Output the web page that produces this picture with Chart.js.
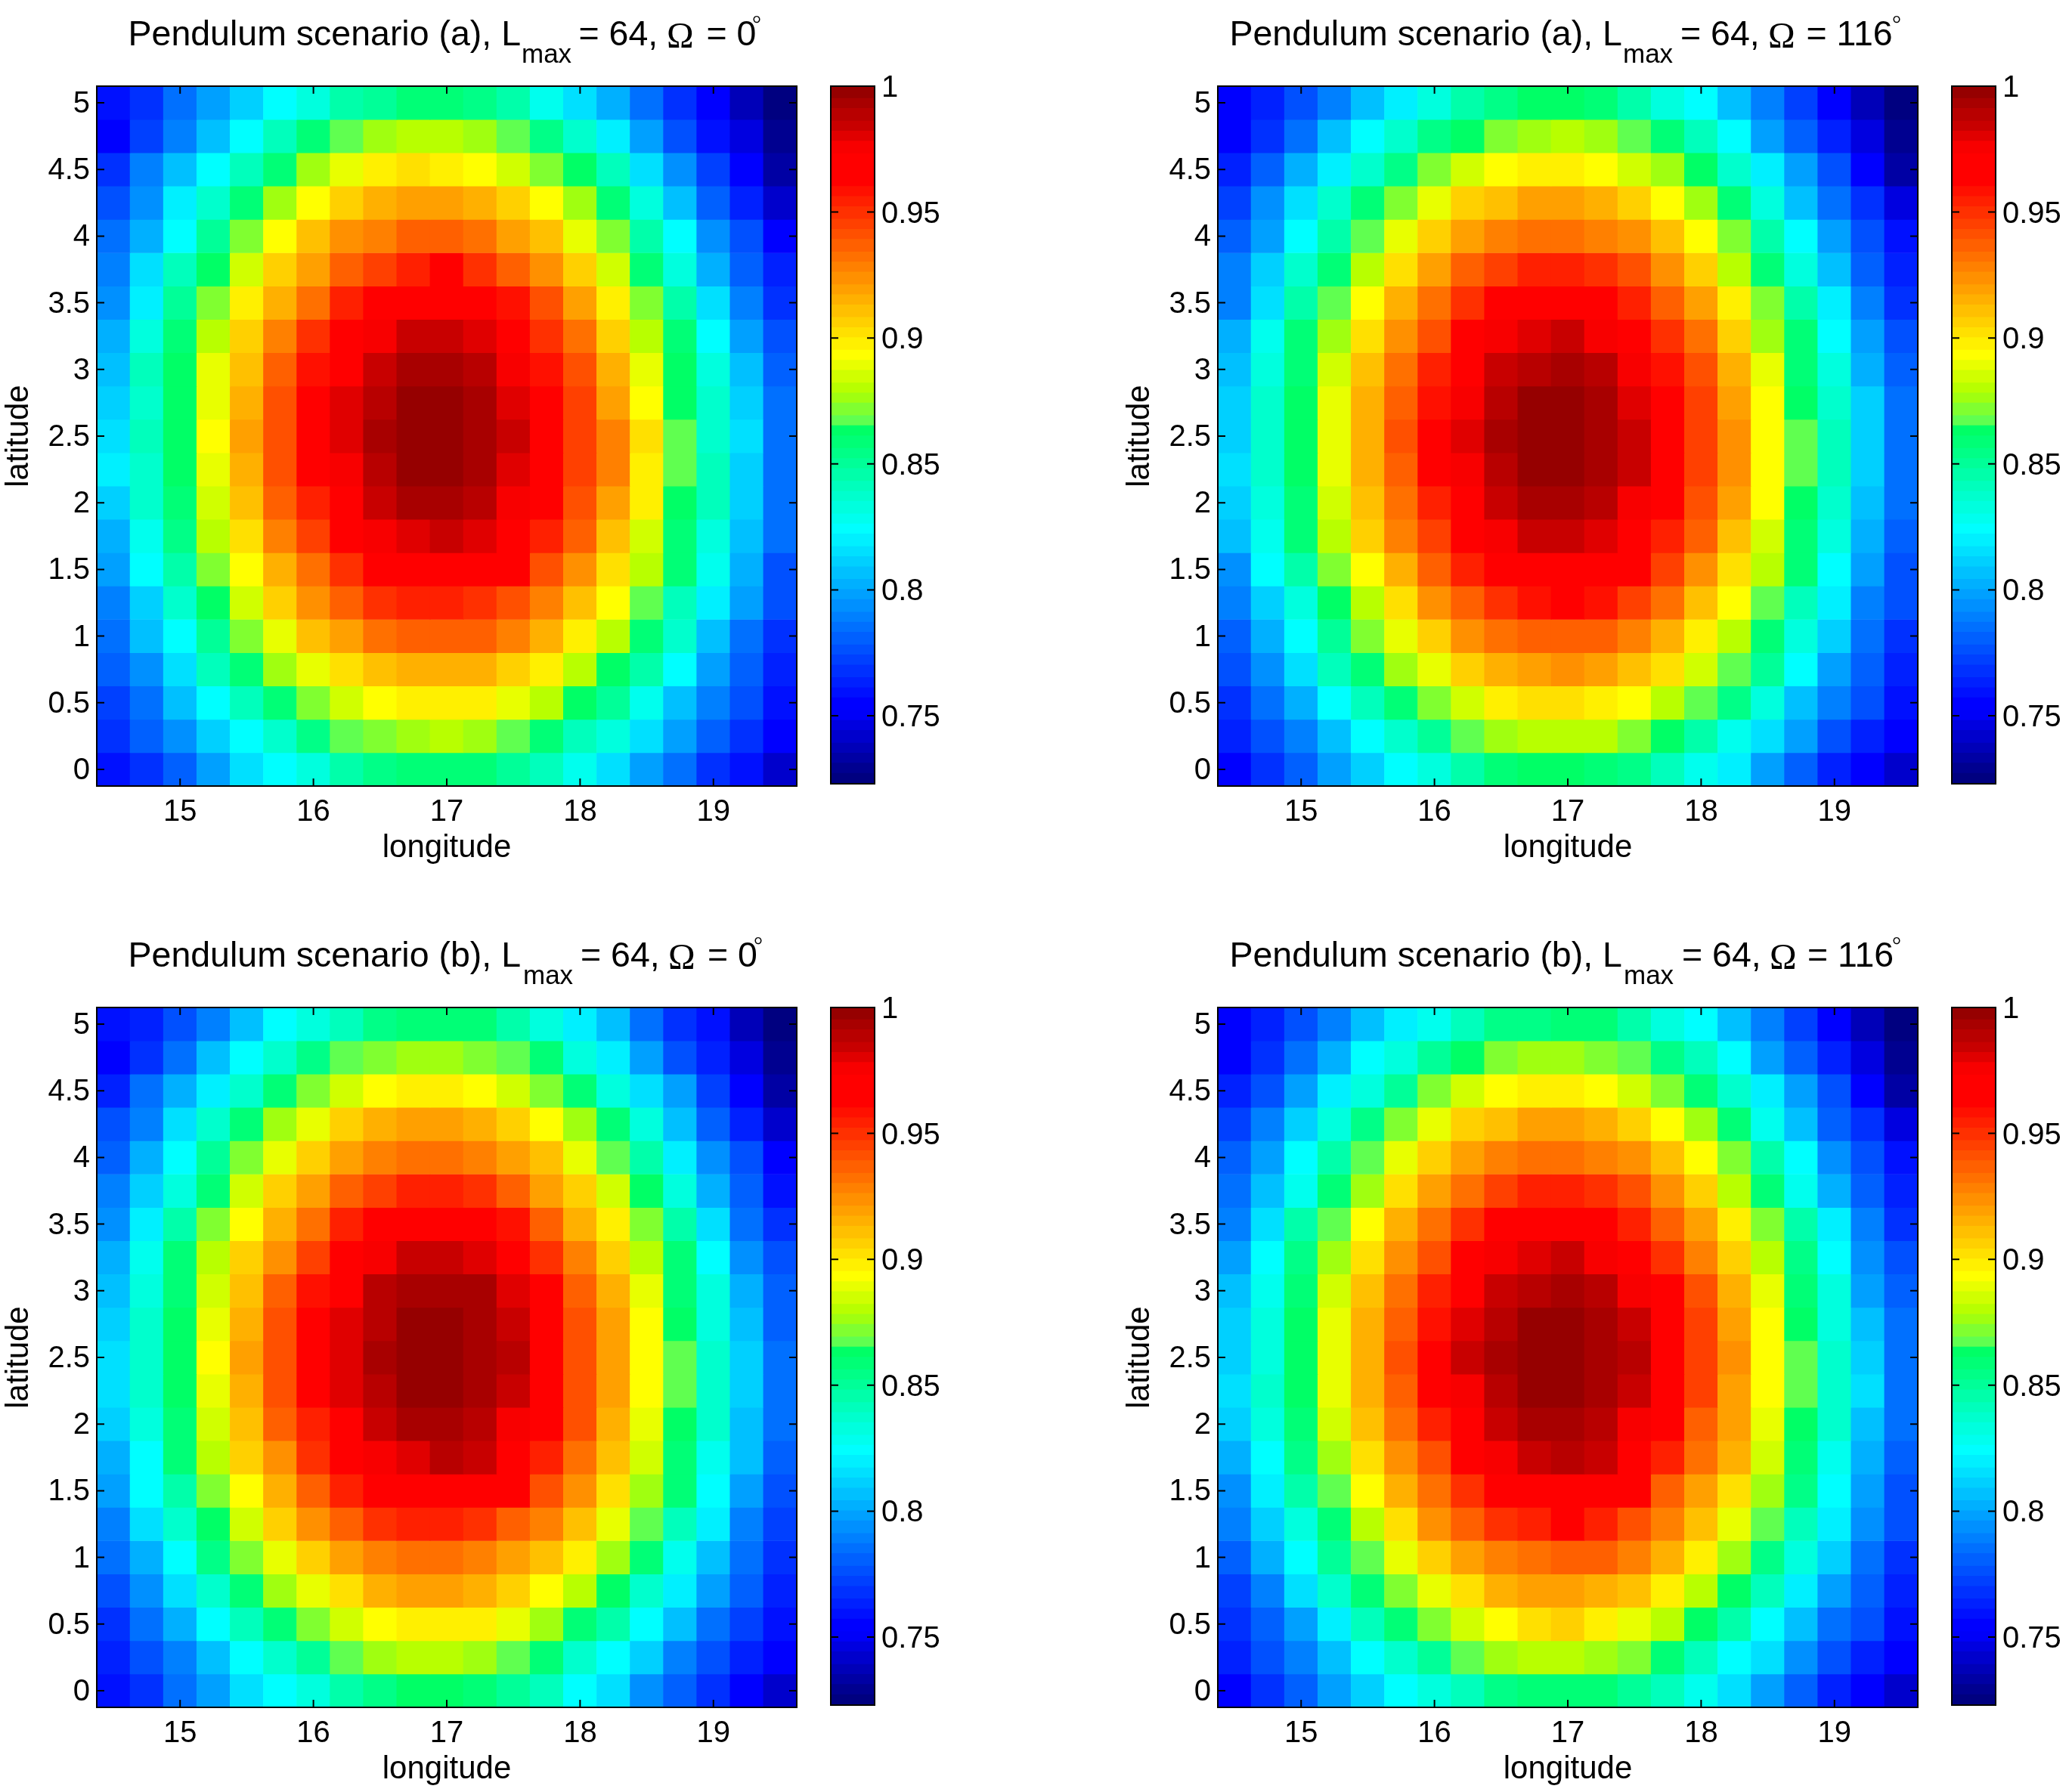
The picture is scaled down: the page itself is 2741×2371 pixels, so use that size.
<!DOCTYPE html>
<html>
<head>
<meta charset="utf-8">
<title>Pendulum scenarios</title>
<script src="https://cdn.jsdelivr.net/npm/chart.js@4"></script>
<style>
  body { margin: 0; background: #fff; }
  canvas { position: absolute; }
</style>
</head>
<body>
<script>
const longitudes = [14.5,14.75,15,15.25,15.5,15.75,16,16.25,16.5,16.75,17,17.25,17.5,17.75,18,18.25,18.5,18.75,19,19.25,19.5];
const latitudes = [5,4.75,4.5,4.25,4,3.75,3.5,3.25,3,2.75,2.5,2.25,2,1.75,1.5,1.25,1,.75,.5,.25,0];
const lonTicks = [15,16,17,18,19];
const latTicks = [0,.5,1,1.5,2,2.5,3,3.5,4,4.5,5];
const barTicks = [.75,.8,.85,.9,.95,1];

// colour bar bands, bottom to top
const bandValues = [.725,.730,.734,.738,.742,.747,.751,.755,.760,.764,.768,.773,.777,.781,.786,.790,.794,.799,.803,.807,.812,.816,.820,.825,.829,.833,.838,.842,.846,.851,.855,.859,.864,.868,.872,.877,.881,.885,.890,.894,.898,.903,.907,.911,.916,.920,.924,.929,.933,.937,.942,.946,.950,.955,.959,.963,.968,.972,.976,.981,.985,.989,.994,.998];
const bandColors = ['#000080','#000090','#0000a4','#0000b8','#0000cc','#0000e0','#0000f8','#0000ff','#0010ff','#0020ff','#0030ff','#0040ff','#0050ff','#0060ff','#0070ff','#0080ff','#0090ff','#00a0ff','#00b0ff','#00c0ff','#00d0ff','#00e0ff','#00f0ff','#00ffff','#00ffee','#00ffde','#00ffcd','#00ffbc','#00ffaa','#00ff98','#00ff87','#00ff76','#00ff66','#60ff50','#80ff30','#a0ff10','#b8ff00','#d0ff00','#e8ff00','#ffff00','#fff000','#ffe000','#ffd000','#ffc000','#ffb000','#ffa000','#ff9000','#ff8000','#ff7000','#ff6000','#ff5000','#ff4000','#ff3000','#ff2000','#ff1000','#ff0000','#ff0000','#ff0000','#f80000','#e00000','#c80000','#b80000','#a80000','#960000'];

// rows run from latitude 5 down to 0
const scenarioA0 = [
[.760,.768,.786,.799,.812,.825,.833,.846,.851,.859,.859,.855,.846,.829,.816,.803,.786,.768,.755,.738,.725],
[.755,.773,.790,.807,.825,.842,.859,.868,.877,.881,.881,.877,.868,.855,.838,.820,.799,.777,.760,.747,.730],
[.768,.790,.807,.825,.842,.859,.877,.890,.898,.903,.898,.894,.885,.872,.864,.842,.816,.794,.773,.755,.734],
[.777,.794,.820,.838,.859,.877,.894,.907,.916,.920,.920,.916,.907,.894,.877,.859,.833,.807,.781,.764,.742],
[.786,.803,.825,.851,.872,.894,.911,.924,.929,.937,.937,.933,.920,.911,.890,.872,.846,.825,.794,.777,.755],
[.790,.816,.842,.864,.885,.907,.920,.937,.946,.955,.963,.950,.937,.924,.907,.885,.859,.833,.803,.781,.764],
[.794,.820,.851,.872,.898,.916,.933,.955,.963,.963,.968,.963,.959,.942,.920,.898,.872,.846,.816,.790,.768],
[.803,.833,.859,.881,.907,.929,.950,.963,.976,.985,.985,.981,.968,.950,.933,.907,.881,.859,.825,.799,.777],
[.807,.842,.864,.890,.911,.937,.959,.968,.985,.994,.994,.989,.976,.959,.942,.916,.890,.864,.833,.807,.781],
[.812,.838,.864,.890,.916,.942,.963,.981,.989,.998,.998,.994,.981,.963,.946,.920,.894,.864,.838,.812,.786],
[.816,.842,.864,.894,.920,.942,.963,.981,.994,.998,.998,.994,.985,.963,.946,.929,.903,.868,.838,.816,.786],
[.820,.838,.864,.890,.916,.942,.963,.976,.989,.998,.998,.994,.981,.963,.946,.929,.898,.868,.842,.812,.786],
[.812,.838,.859,.885,.911,.937,.955,.968,.985,.994,.994,.989,.976,.968,.942,.920,.898,.864,.842,.812,.786],
[.803,.829,.855,.881,.903,.929,.946,.968,.976,.981,.985,.981,.968,.955,.937,.911,.885,.859,.833,.807,.786],
[.799,.825,.846,.872,.894,.916,.933,.950,.963,.963,.963,.963,.968,.942,.924,.903,.881,.859,.829,.803,.777],
[.790,.812,.838,.864,.885,.907,.924,.937,.950,.955,.955,.950,.942,.929,.911,.894,.868,.842,.820,.799,.777],
[.786,.807,.825,.851,.872,.890,.911,.920,.933,.937,.937,.937,.929,.916,.898,.881,.859,.838,.807,.786,.768],
[.781,.794,.816,.842,.859,.877,.890,.903,.911,.916,.916,.916,.907,.898,.881,.864,.846,.825,.799,.781,.764],
[.773,.786,.807,.825,.842,.859,.872,.885,.894,.898,.898,.898,.890,.881,.864,.851,.829,.807,.790,.777,.760],
[.768,.781,.794,.812,.825,.838,.855,.868,.872,.877,.881,.877,.868,.859,.842,.833,.816,.799,.781,.768,.755],
[.760,.768,.781,.799,.816,.825,.833,.846,.855,.859,.859,.859,.851,.842,.829,.816,.799,.786,.768,.760,.742]
];
const scenarioA116 = [
[.755,.764,.777,.790,.807,.820,.833,.846,.855,.864,.864,.859,.846,.833,.825,.807,.790,.773,.755,.738,.725],
[.755,.768,.786,.807,.825,.838,.855,.864,.872,.877,.881,.877,.868,.859,.842,.825,.799,.781,.764,.747,.730],
[.764,.781,.803,.820,.838,.855,.872,.885,.894,.898,.898,.894,.885,.877,.864,.838,.820,.799,.777,.755,.734],
[.773,.794,.816,.838,.859,.872,.890,.907,.911,.920,.920,.916,.907,.894,.877,.859,.833,.807,.786,.768,.747],
[.781,.799,.825,.846,.868,.890,.907,.920,.929,.933,.933,.929,.924,.911,.894,.872,.846,.825,.799,.777,.760],
[.790,.812,.838,.859,.881,.903,.920,.937,.946,.955,.955,.950,.942,.924,.907,.881,.859,.833,.807,.781,.764],
[.790,.816,.846,.868,.894,.916,.933,.950,.963,.963,.963,.963,.955,.937,.920,.898,.872,.846,.820,.790,.768],
[.803,.829,.859,.877,.903,.924,.942,.963,.976,.981,.985,.976,.968,.950,.933,.907,.877,.859,.825,.799,.777],
[.807,.833,.859,.885,.911,.933,.955,.968,.985,.989,.994,.989,.976,.959,.942,.916,.890,.859,.833,.803,.781],
[.812,.838,.864,.890,.916,.937,.959,.976,.989,.998,.998,.994,.981,.968,.946,.920,.894,.864,.838,.812,.786],
[.812,.838,.864,.890,.916,.942,.963,.981,.994,.998,.998,.994,.985,.968,.946,.924,.894,.868,.842,.812,.786],
[.816,.838,.864,.890,.916,.937,.963,.976,.989,.998,.998,.994,.985,.968,.946,.924,.894,.868,.842,.812,.786],
[.812,.833,.859,.885,.911,.933,.955,.968,.985,.994,.994,.989,.976,.968,.942,.920,.894,.864,.838,.807,.786],
[.807,.829,.859,.881,.907,.929,.946,.968,.976,.985,.985,.981,.968,.955,.937,.911,.885,.859,.833,.803,.781],
[.794,.825,.846,.872,.894,.916,.937,.955,.963,.963,.963,.963,.963,.946,.924,.903,.881,.859,.825,.799,.777],
[.790,.812,.833,.864,.881,.903,.924,.937,.950,.959,.963,.959,.946,.933,.911,.894,.868,.842,.820,.790,.777],
[.781,.803,.825,.851,.872,.890,.907,.924,.933,.937,.937,.937,.929,.916,.898,.881,.859,.833,.812,.786,.768],
[.777,.794,.816,.842,.859,.877,.890,.907,.916,.920,.924,.920,.911,.903,.885,.868,.851,.825,.799,.781,.764],
[.768,.786,.803,.825,.842,.859,.872,.885,.898,.903,.903,.898,.894,.881,.868,.855,.833,.807,.790,.777,.760],
[.764,.777,.790,.807,.825,.838,.851,.868,.877,.881,.881,.881,.872,.864,.846,.829,.816,.799,.777,.764,.755],
[.755,.768,.781,.799,.812,.825,.833,.846,.859,.864,.864,.859,.855,.842,.829,.820,.799,.781,.764,.755,.742]
];
const scenarioB0 = [
[.760,.764,.777,.790,.807,.825,.833,.842,.855,.859,.859,.859,.846,.833,.820,.807,.786,.768,.760,.738,.725],
[.755,.768,.786,.807,.825,.838,.855,.868,.872,.877,.877,.872,.868,.859,.833,.820,.799,.777,.764,.747,.730],
[.764,.786,.803,.820,.838,.859,.872,.885,.894,.898,.898,.894,.885,.872,.859,.833,.816,.799,.773,.755,.734],
[.777,.790,.816,.838,.859,.877,.890,.907,.916,.920,.920,.916,.907,.894,.877,.859,.833,.807,.781,.764,.742],
[.781,.803,.825,.851,.872,.890,.907,.920,.929,.933,.933,.929,.920,.911,.890,.868,.846,.820,.794,.777,.755],
[.790,.812,.833,.859,.885,.907,.920,.937,.946,.955,.955,.950,.937,.920,.907,.885,.864,.833,.803,.781,.760],
[.794,.820,.846,.872,.894,.916,.933,.955,.963,.963,.963,.963,.959,.937,.916,.898,.872,.846,.816,.786,.768],
[.803,.829,.859,.881,.907,.924,.946,.963,.976,.985,.985,.981,.968,.950,.929,.907,.881,.859,.825,.794,.777],
[.807,.833,.859,.885,.911,.937,.959,.968,.989,.994,.994,.994,.981,.968,.937,.916,.890,.859,.833,.803,.781],
[.812,.838,.864,.890,.916,.942,.963,.981,.989,.998,.998,.994,.985,.968,.942,.920,.894,.864,.833,.807,.781],
[.816,.838,.864,.894,.920,.942,.963,.981,.994,.998,.998,.994,.989,.968,.942,.920,.894,.868,.838,.812,.786],
[.816,.838,.864,.890,.916,.942,.963,.981,.989,.998,.998,.994,.985,.968,.942,.920,.894,.868,.838,.812,.786],
[.812,.833,.859,.885,.911,.937,.955,.968,.985,.994,.994,.989,.976,.968,.942,.916,.890,.864,.838,.807,.786],
[.803,.825,.859,.881,.907,.924,.950,.968,.976,.981,.989,.985,.968,.955,.933,.911,.885,.859,.829,.807,.781],
[.799,.825,.846,.872,.894,.916,.937,.955,.963,.963,.963,.963,.963,.942,.924,.903,.877,.859,.825,.799,.777],
[.790,.816,.838,.864,.885,.907,.924,.937,.950,.955,.955,.950,.937,.929,.911,.890,.868,.842,.820,.790,.773],
[.786,.803,.825,.855,.872,.890,.907,.920,.929,.933,.933,.929,.920,.911,.898,.877,.859,.829,.807,.786,.768],
[.777,.794,.816,.838,.859,.877,.890,.903,.916,.920,.920,.916,.907,.894,.881,.864,.838,.820,.799,.781,.764],
[.768,.786,.803,.825,.842,.859,.872,.885,.894,.898,.898,.898,.890,.877,.859,.846,.825,.807,.786,.773,.760],
[.764,.777,.790,.807,.825,.838,.851,.868,.877,.881,.881,.877,.868,.859,.838,.825,.812,.790,.777,.764,.755],
[.760,.768,.786,.799,.816,.825,.833,.846,.855,.864,.864,.859,.851,.842,.825,.816,.794,.781,.768,.755,.742]
];
const scenarioB116 = [
[.755,.764,.777,.790,.807,.820,.829,.842,.855,.855,.859,.859,.846,.833,.825,.807,.790,.773,.755,.738,.725],
[.755,.768,.786,.803,.825,.833,.851,.864,.872,.877,.877,.872,.868,.855,.842,.825,.799,.781,.764,.747,.730],
[.764,.777,.799,.820,.833,.851,.872,.885,.894,.898,.898,.894,.885,.872,.859,.838,.820,.799,.777,.755,.734],
[.773,.790,.812,.833,.855,.872,.890,.907,.911,.920,.920,.916,.907,.894,.877,.859,.829,.807,.781,.768,.747],
[.781,.799,.825,.846,.868,.890,.907,.920,.929,.933,.933,.929,.924,.911,.894,.872,.846,.825,.794,.777,.760],
[.786,.807,.829,.859,.877,.903,.920,.933,.946,.955,.955,.950,.942,.924,.907,.881,.859,.829,.803,.781,.764],
[.790,.816,.846,.868,.894,.916,.933,.950,.963,.963,.963,.963,.955,.937,.920,.898,.872,.846,.820,.790,.768],
[.799,.825,.855,.877,.903,.924,.942,.968,.976,.981,.985,.976,.963,.950,.929,.907,.881,.855,.825,.794,.777],
[.807,.829,.859,.885,.911,.933,.955,.968,.985,.989,.994,.989,.976,.968,.942,.916,.890,.859,.833,.799,.781],
[.812,.833,.864,.890,.916,.937,.959,.981,.989,.998,.998,.994,.985,.968,.946,.920,.894,.864,.833,.807,.786],
[.812,.833,.864,.890,.916,.942,.963,.985,.994,.998,.998,.994,.989,.968,.946,.924,.894,.868,.838,.812,.786],
[.816,.838,.864,.890,.916,.937,.963,.976,.989,.998,.998,.994,.985,.968,.946,.920,.894,.868,.838,.816,.786],
[.812,.833,.859,.885,.911,.933,.955,.968,.985,.994,.994,.989,.976,.968,.937,.920,.890,.864,.838,.807,.786],
[.803,.825,.855,.877,.903,.924,.942,.968,.976,.985,.989,.985,.968,.955,.933,.916,.885,.859,.829,.803,.781],
[.794,.820,.846,.868,.894,.916,.933,.950,.963,.963,.963,.963,.963,.937,.920,.903,.877,.855,.825,.799,.777],
[.790,.812,.833,.859,.881,.903,.924,.937,.950,.955,.963,.955,.942,.929,.911,.890,.868,.842,.820,.794,.777],
[.781,.803,.825,.851,.868,.890,.907,.920,.929,.933,.937,.937,.929,.916,.898,.877,.855,.833,.812,.786,.768],
[.773,.790,.816,.838,.859,.872,.890,.903,.916,.920,.920,.916,.911,.898,.881,.864,.842,.820,.799,.781,.764],
[.768,.781,.799,.820,.842,.859,.872,.885,.894,.903,.907,.898,.890,.881,.864,.846,.825,.807,.786,.777,.760],
[.764,.777,.790,.807,.825,.838,.851,.868,.877,.881,.881,.877,.872,.859,.842,.825,.816,.794,.777,.764,.755],
[.755,.768,.781,.799,.812,.825,.833,.842,.855,.859,.859,.859,.851,.842,.829,.816,.799,.781,.764,.755,.742]
];

const sans = '"Liberation Sans", Arial, sans-serif';
const plotSize = 926;
const marginLeft = 128, marginTop = 114, marginBottom = 108;

function colorOf(v) {
    let best = 0;
    for (let i = 1; i < bandValues.length; i++) {
        if (Math.abs(bandValues[i] - v) < Math.abs(bandValues[best] - v)) best = i;
    }
    return bandColors[best];
}

// box around the plot with inward ticks, MATLAB style
const axesBox = {
    id: 'axesBox',
    afterDatasetsDraw(chart) {
        const { ctx, chartArea: a, scales } = chart;
        ctx.save();
        ctx.strokeStyle = '#000';
        ctx.lineWidth = 2;
        ctx.strokeRect(a.left, a.top, a.right - a.left, a.bottom - a.top);
        ctx.beginPath();
        scales.x.ticks.forEach(t => {
            const px = scales.x.getPixelForValue(t.value);
            ctx.moveTo(px, a.bottom); ctx.lineTo(px, a.bottom - 10);
            ctx.moveTo(px, a.top); ctx.lineTo(px, a.top + 10);
        });
        scales.y.ticks.forEach(t => {
            const py = scales.y.getPixelForValue(t.value);
            ctx.moveTo(a.left, py); ctx.lineTo(a.left + 10, py);
            ctx.moveTo(a.right, py); ctx.lineTo(a.right - 10, py);
        });
        ctx.stroke();
        ctx.restore();
    }
};

// title with subscript and greek, the built-in title cannot do this
const richTitle = {
    id: 'richTitle',
    afterDraw(chart, args, opts) {
        if (!opts.runs) return;
        const { ctx, chartArea: a } = chart;
        ctx.save();
        ctx.fillStyle = '#000';
        ctx.textAlign = 'left';
        ctx.textBaseline = 'alphabetic';
        opts.runs.forEach(r => {
            ctx.font = r.font;
            ctx.fillText(r.text, a.left + r.x, a.top + r.y);
        });
        ctx.restore();
    }
};

function titleRuns(head, omega, xs) {
    return [
        { text: head, x: xs[0], y: -54, font: '46.5px ' + sans },
        { text: 'max', x: xs[1], y: -31, font: '35px ' + sans },
        { text: '= 64,', x: xs[2], y: -54, font: '46.5px ' + sans },
        { text: 'Ω', x: xs[3], y: -51, font: '48px "Liberation Serif", serif' },
        { text: '= ' + omega, x: xs[4], y: -54, font: '46.5px ' + sans },
        { text: '°', x: xs[5], y: -73, font: '30px "Liberation Serif", serif' }
    ];
}

function addCanvas(left, top, width, height) {
    const c = document.createElement('canvas');
    c.width = width;
    c.height = height;
    c.style.left = left + 'px';
    c.style.top = top + 'px';
    c.style.width = width + 'px';
    c.style.height = height + 'px';
    document.body.appendChild(c);
    return c.getContext('2d');
}

function drawPanel(plotLeft, plotTop, rows, runs) {
    const ctx = addCanvas(plotLeft - marginLeft, plotTop - marginTop, marginLeft + plotSize + 3, marginTop + plotSize + marginBottom);
    new Chart(ctx, {
        type: 'bar',
        data: {
            datasets: rows.map((row, r) => ({
                data: row.map((v, c) => ({ x: longitudes[c], y: [latitudes[r] - 0.125, latitudes[r] + 0.125] })),
                backgroundColor: row.map(colorOf),
                borderWidth: 0,
                grouped: false,
                barPercentage: 1,
                categoryPercentage: 1
            }))
        },
        options: {
            responsive: false,
            animation: false,
            devicePixelRatio: 1,
            layout: { padding: { top: marginTop, right: 3, left: 0, bottom: 0 } },
            plugins: { legend: { display: false }, tooltip: { enabled: false }, richTitle: { runs } },
            scales: {
                x: {
                    type: 'linear', offset: false, min: 14.375, max: 19.625,
                    grid: { display: false, drawTicks: false }, border: { display: false },
                    afterBuildTicks: s => { s.ticks = lonTicks.map(v => ({ value: v })); },
                    afterFit: s => { s.height = marginBottom; },
                    ticks: { color: '#000', font: { family: sans, size: 40 }, padding: 11, maxRotation: 0, autoSkip: false, callback: v => String(v) },
                    title: { display: true, text: 'longitude', color: '#000', font: { family: sans, size: 42 }, padding: 0 }
                },
                y: {
                    type: 'linear', min: -0.125, max: 5.125,
                    grid: { display: false, drawTicks: false }, border: { display: false },
                    afterBuildTicks: s => { s.ticks = latTicks.map(v => ({ value: v })); },
                    afterFit: s => { s.width = marginLeft; },
                    ticks: { color: '#000', font: { family: sans, size: 40 }, padding: 9, labelOffset: 2, autoSkip: false, callback: v => String(v) },
                    title: { display: true, text: 'latitude', color: '#000', font: { family: sans, size: 42 }, padding: 0 }
                }
            }
        },
        plugins: [axesBox, richTitle]
    });
}

function drawColorBar(barLeft, plotTop) {
    const ctx = addCanvas(barLeft - 3, plotTop - 60, 3 + 58 + 110, 60 + plotSize + 30);
    new Chart(ctx, {
        type: 'bar',
        data: {
            labels: ['c'],
            datasets: [{
                data: bandValues.map(v => ({ x: 'c', y: [v - 0.0026, v + 0.0026] })),
                backgroundColor: bandColors,
                borderWidth: 0,
                barPercentage: 1,
                categoryPercentage: 1
            }]
        },
        options: {
            responsive: false,
            animation: false,
            devicePixelRatio: 1,
            layout: { padding: { top: 60, bottom: 30, left: 3, right: 0 } },
            plugins: { legend: { display: false }, tooltip: { enabled: false } },
            scales: {
                x: { display: false, afterBuildTicks: s => { s.ticks = []; } },
                y: {
                    type: 'linear', position: 'right', min: .723, max: 1,
                    grid: { display: false, drawTicks: false }, border: { display: false },
                    afterBuildTicks: s => { s.ticks = barTicks.map(v => ({ value: v })); },
                    afterFit: s => { s.width = 110; },
                    ticks: { color: '#000', font: { family: sans, size: 40 }, padding: 9, labelOffset: 3, autoSkip: false, callback: v => String(v) }
                }
            }
        },
        plugins: [axesBox]
    });
}

drawPanel(128, 114, scenarioA0, titleRuns('Pendulum scenario (a), L', '0', [41.5, 562, 637.5, 754, 806.5, 867]));
drawColorBar(1099, 114);
drawPanel(1611, 114, scenarioA116, titleRuns('Pendulum scenario (a), L', '116', [15.4, 536, 612, 728, 778.5, 892]));
drawColorBar(2582, 114);
drawPanel(128, 1333, scenarioB0, titleRuns('Pendulum scenario (b), L', '0', [41.5, 564, 640, 756, 808, 869]));
drawColorBar(1099, 1333);
drawPanel(1611, 1333, scenarioB116, titleRuns('Pendulum scenario (b), L', '116', [15.4, 537, 614, 730, 780, 892]));
drawColorBar(2582, 1333);
</script>
</body>
</html>
